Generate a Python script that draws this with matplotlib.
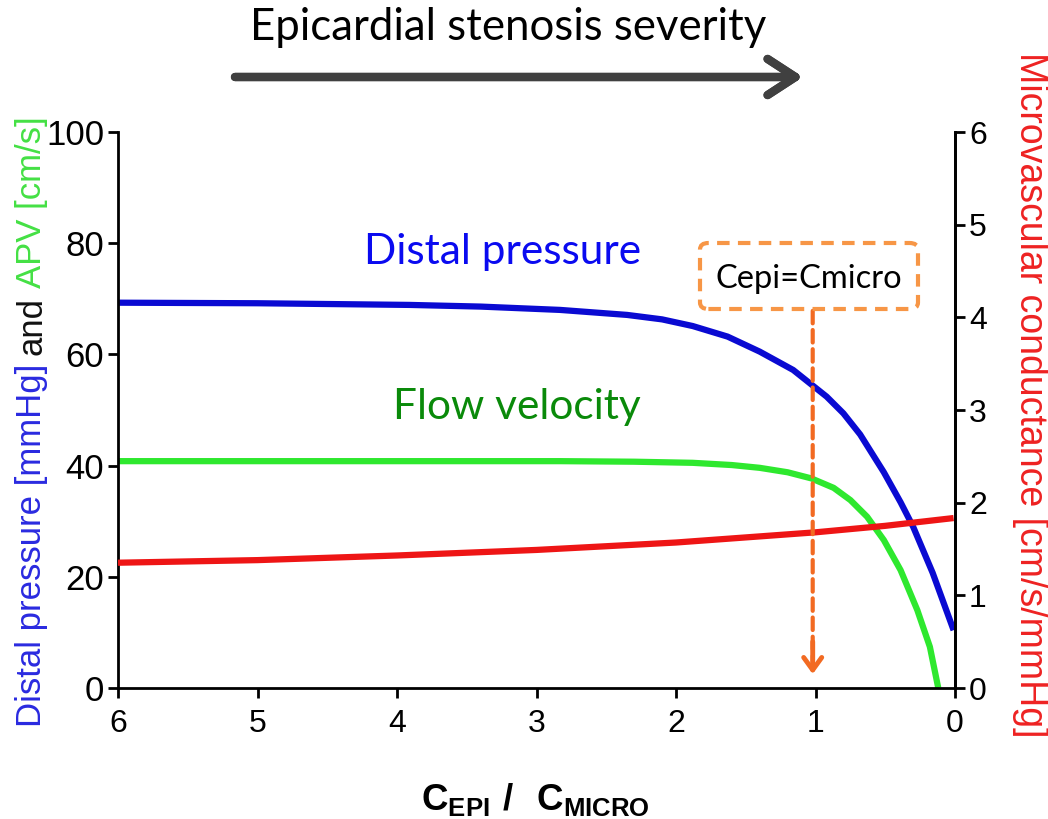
import matplotlib
matplotlib.use("Agg")
import matplotlib.pyplot as plt
from matplotlib.patches import FancyBboxPatch

# ---- data ----
ratio_blue = [6, 5, 3.91, 3.4, 2.83, 2.35, 2.1, 1.88, 1.63, 1.40, 1.16, 1.04, 0.92, 0.80, 0.68,
              0.51, 0.39, 0.30, 0.16, 0.01]
distal_pressure = [69.3, 69.2, 68.9, 68.6, 68.0, 67.1, 66.3, 65.1, 63.2, 60.5, 57.2, 54.8, 52.4, 49.4, 45.6,
                   38.8, 33.4, 29.0, 20.7, 10.4]

ratio_green = [6, 4, 2.83, 2.3, 1.88, 1.6, 1.40, 1.2, 1.03, 0.87, 0.75, 0.63, 0.51, 0.39, 0.27, 0.18, 0.12]
flow_velocity = [40.8, 40.8, 40.8, 40.7, 40.5, 40.1, 39.6, 38.8, 37.7, 36.0, 33.8, 30.8, 26.6, 21.2, 14.0, 7.4, 0.0]

ratio_red = [6, 5, 4, 3, 2, 1, 0.5, 0.01]
micro_conductance = [1.352, 1.38, 1.43, 1.49, 1.57, 1.68, 1.75, 1.834]

x_ticks = [6, 5, 4, 3, 2, 1, 0]
left_ticks = [0, 20, 40, 60, 80, 100]
right_ticks = [0, 1, 2, 3, 4, 5, 6]

W, H = 1048, 819
fig = plt.figure(figsize=(W / 100, H / 100), dpi=100)
fig.patch.set_facecolor("white")

def fx(px):
    return px / W

def fy(py):
    return 1 - py / H

ax = fig.add_axes([fx(118), fy(688), (955 - 118) / W, (688 - 132) / H])
ax2 = ax.twinx()

ax.plot(ratio_blue, distal_pressure, color="#0a0ad2", lw=4.5, solid_capstyle="butt",
        solid_joinstyle="round")
ax.plot(ratio_green, flow_velocity, color="#2ee82e", lw=4.5, solid_capstyle="butt",
        solid_joinstyle="round")
ax2.plot(ratio_red, micro_conductance, color="#ee1515", lw=4.5, solid_capstyle="butt",
         solid_joinstyle="round")

ax.set_xlim(6, 0)
ax.set_ylim(0, 100)
ax2.set_ylim(0, 6)
ax.set_xticks(x_ticks)
ax.set_yticks(left_ticks)
ax2.set_yticks(right_ticks)

tickfont = "Liberation Sans"
for a in (ax, ax2):
    a.spines["top"].set_visible(False)
    for s in a.spines.values():
        s.set_linewidth(2)
    a.tick_params(direction="out", length=7, width=2, labelsize=23, pad=3)
    for lab in a.get_xticklabels() + a.get_yticklabels():
        lab.set_fontfamily(tickfont)
ax.tick_params(axis="y", labelsize=25)
ax.tick_params(axis="x", pad=8)
ax2.spines["left"].set_visible(False)
ax2.spines["bottom"].set_visible(False)

# x label
plt.rcParams["mathtext.fontset"] = "custom"
plt.rcParams["mathtext.bf"] = "Liberation Sans:bold"
plt.rcParams["mathtext.rm"] = "Liberation Sans"
fig.text(fx(535), fy(800), r"$\mathbf{C_{EPI}\ /\ \ C_{MICRO}}$", fontsize=26.5,
         ha="center", va="center")

# left multi-coloured y label
renderer = fig.canvas.get_renderer()
pieces = [("Distal pressure [mmHg]", "#2a2ae0"), ("and", "#111111"), ("APV [cm/s]", "#44e044")]
ycur = fy(727)
for s, c in pieces:
    t = fig.text(fx(32), ycur, s, color=c, rotation=90, ha="center", va="bottom",
                 fontsize=25, family=tickfont)
    bb = t.get_window_extent(renderer)
    ycur = bb.y1 / fig.bbox.height + 9 / H

# right y label
fig.text(fx(1030), fy(52), "Microvascular conductance [cm/s/mmHg]", color="#ee2222",
         rotation=-90, ha="center", va="top", fontsize=27, family=tickfont)

# curve labels
ax.text(3.24, 78.4, "Distal pressure", color="#0a0af0", fontsize=30.5, family="Lato",
        ha="center", va="center")
ax.text(3.14, 50.5, "Flow velocity", color="#0a8a0a", fontsize=30.5, family="Lato",
        ha="center", va="center")

# top title and arrow
fig.text(fx(508), fy(28), "Epicardial stenosis severity", fontsize=31.5, family="Lato",
         ha="center", va="center", color="black")
fig.add_artist(plt.annotate("", xy=(fx(803), fy(77)), xytext=(fx(235), fy(77)),
               xycoords="figure fraction", textcoords="figure fraction",
               arrowprops=dict(arrowstyle="->,head_length=2.0,head_width=1.3",
                               color="#404040", lw=6, shrinkA=0, shrinkB=0)))

# dashed box annotation
box = FancyBboxPatch((fx(700), fy(309)), (918 - 700) / W, (309 - 243) / H,
                     boxstyle="round,pad=0,rounding_size=0.008",
                     transform=fig.transFigure, fill=False, edgecolor="#f79646",
                     lw=3, linestyle=(0, (3, 2)))
fig.add_artist(box)
fig.text(fx(809), fy(279), "Cepi=Cmicro", fontsize=23.5, family="Lato",
         ha="center", va="center", color="black")

# dashed vertical arrow (dashed shaft + solid head)
ax2.annotate("", xy=(1.02, 0.2), xytext=(1.02, 4.07),
             arrowprops=dict(arrowstyle="-", color="#f26a22", lw=3,
                             linestyle=(0, (3, 1.6)), shrinkA=0, shrinkB=0))
ax2.annotate("", xy=(1.02, 0.15), xytext=(1.02, 0.5),
             arrowprops=dict(arrowstyle="->,head_length=0.9,head_width=0.65",
                             color="#f26a22", lw=3.5, shrinkA=0, shrinkB=0))

fig.savefig("out.png", dpi=100)
